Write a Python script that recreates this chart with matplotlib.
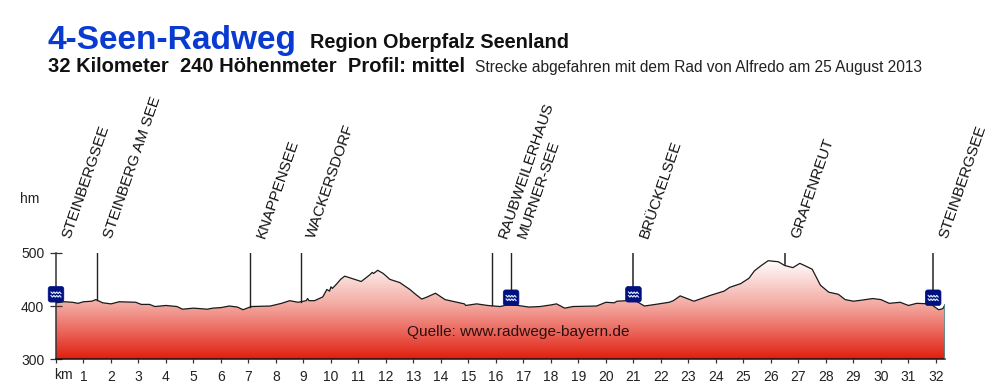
import numpy as np
import matplotlib
matplotlib.use('Agg')
import matplotlib.pyplot as plt
from matplotlib.colors import LinearSegmentedColormap
from matplotlib.lines import Line2D
from matplotlib.patches import FancyBboxPatch
from matplotlib.transforms import IdentityTransform

plt.rcParams['font.family'] = ['Liberation Sans', 'DejaVu Sans']

km = [0, 0.3, 0.6, 0.8, 1, 1.3, 1.45, 1.7, 2, 2.3, 2.9, 3.1, 3.4, 3.6, 4, 4.4, 4.6, 5, 5.5, 5.7, 6, 6.3,
      6.6, 6.8, 7.1, 7.8, 8.2, 8.5, 8.8, 9.1, 9.15, 9.2, 9.4, 9.7, 9.85, 9.95, 10, 10.05, 10.2, 10.35, 10.5, 10.8,
      11.1, 11.25, 11.4, 11.5, 11.55, 11.7, 11.9, 12.14, 12.5, 12.87, 13.1, 13.3, 13.5, 13.8, 14.15, 14.5, 14.85,
      14.9, 15.3, 15.7, 16.15, 16.4, 16.8, 17.2, 17.6, 18.0, 18.2, 18.5, 18.8, 19.66, 20, 20.3, 20.4, 20.75, 21.1,
      21.4, 21.8, 22.3, 22.45, 22.7, 23.2, 23.8, 24.3, 24.5, 24.9, 25.2, 25.4, 25.65, 25.9, 26.27, 26.5, 26.8,
      27.05, 27.3, 27.5, 27.8, 28.1, 28.45, 28.7, 29, 29.3, 29.7, 30, 30.3, 30.7, 31, 31.3, 31.8, 32.1, 32.25, 32.33]
elevation = [406, 408, 407, 405, 408, 409, 412, 406, 404, 408, 407, 403, 403, 399, 401, 399, 394, 396, 394, 396, 397, 400,
             398, 393, 399, 400, 405, 410, 407, 410, 414, 410, 410, 417, 431, 428, 436, 433, 441, 450, 456, 451,
             446, 452, 458, 463, 461, 467, 461, 450, 444, 431, 421, 413, 417, 424, 412, 408, 404,
             401, 404, 401, 399, 402, 401, 398, 399, 402, 404, 396, 399, 400, 407, 406, 409, 410, 409,
             400, 403, 407, 410, 419, 409, 420, 428, 435, 442, 452, 466, 476, 485, 483, 476, 472,
             480, 474, 469, 439, 426, 422, 412, 409, 411, 414, 412, 405, 407, 401, 405, 404, 393, 395, 402]

tick_km = list(range(33))
y_ticks = [300, 400, 500]

place_km = [0.0, 1.5, 7.05, 8.9, 15.85, 16.55, 21.0, 26.5, 31.9]
place_names = ['STEINBERGSEE', 'STEINBERG AM SEE', 'KNAPPENSEE', 'WACKERSDORF', 'RAUBWEILERHAUS',
               'MURNER-SEE', 'BRÜCKELSEE', 'GRAFENREUT', 'STEINBERGSEE']
place_ground = [408, 412, 399, 408, 401, 430, 430, 478, 430]

lake_km = [0.0, 16.55, 21.0, 31.9]
lake_y = [422, 415.5, 422, 415.5]

W, H = 1000, 389
dark = '#222222'


def px_text(x, y, s, **kw):
    fig.text(x / W, 1 - y / H, s, **kw)


fig = plt.figure(figsize=(10, 3.89), dpi=100)
x_end = 32.33
ax = fig.add_axes([56 / W, 1 - 359.3 / H, (945 - 56) / W, (359.3 - 252.7) / H])
ax.set_xlim(0, x_end)
ax.set_ylim(300, 500)

# red to white gradient clipped to the profile
cmap = LinearSegmentedColormap.from_list('hoehe', [(0, '#e01f0e'), (0.25, '#ea6459'), (0.5, '#f3a8a0'),
                                                   (0.93, '#ffffff'), (1, '#ffffff')])
grad = np.linspace(1, 0, 256).reshape(-1, 1)
img = ax.imshow(grad, extent=[0, x_end, 300, 500], aspect='auto', cmap=cmap, vmin=0, vmax=1, zorder=1)
poly = ax.fill_between(km, 300, elevation, facecolor='none', edgecolor='none')
img.set_clip_path(poly.get_paths()[0], transform=ax.transData)
ax.plot(km, elevation, color='#1a1a1a', lw=0.9, zorder=3)
ax.plot([x_end, x_end], [300, 402], color='#3f9a9a', lw=1.1, zorder=3)

# place markers, the last ones are a bit thicker and greyer in the original
for k, g in zip(place_km[1:], place_ground[1:]):
    if k > 20:
        ax.plot([k, k], [g, 500], color='#444444', lw=1.3, zorder=2)
    else:
        ax.plot([k, k], [g, 500], color='#222222', lw=1.0, zorder=2)

# lake icons
for k, y in zip(lake_km, lake_y):
    x0, y0 = ax.transData.transform((k, y))
    box = FancyBboxPatch((x0 - 6, y0 - 6), 12, 12, boxstyle='round,pad=1.8,rounding_size=2.5',
                         transform=IdentityTransform(), facecolor='#00107f', edgecolor='#00107f', lw=0.5, zorder=5)
    fig.add_artist(box)
    wave_x = np.linspace(-5, 5, 21)
    for dy in (-2, 1.5):
        wave = Line2D(x0 + wave_x, y0 + dy + 0.8 * np.sin(wave_x * 2.2), color='#dfe6ff', lw=0.8,
                      transform=IdentityTransform(), zorder=6)
        fig.add_artist(wave)

for s in ['top', 'right']:
    ax.spines[s].set_visible(False)
ax.spines['left'].set_color('#333333')
ax.spines['left'].set_linewidth(1.1)
ax.spines['bottom'].set_color('#111111')
ax.spines['bottom'].set_linewidth(1.1)
ax.set_xticks(tick_km)
ax.set_xticklabels([''] + [str(t) for t in tick_km[1:]], fontsize=10, color=dark)
ax.tick_params(axis='x', length=3, width=0.9, color='#333333', pad=5)
ax.set_yticks(y_ticks)
ax.set_yticklabels([str(t) for t in y_ticks], fontsize=10, color=dark)
ax.tick_params(axis='y', direction='inout', length=8, width=0.9, color='#333333', pad=4.5)

ax.text(16.8, 351, 'Quelle: www.radwege-bayern.de', fontsize=11.1, color='#2a1010', ha='center', va='center', zorder=4)

# rotated place names
for k, name in zip(place_km, place_names):
    x0, y0 = ax.transData.transform((k, 500))
    fig.text((x0 + 14.5) / W, (y0 + 14) / H, name, fontsize=11, color='#111111', rotation=71, rotation_mode='anchor',
             ha='left', va='baseline')

px_text(20, 203, 'hm', fontsize=10, color=dark)
px_text(54, 379, 'km', fontsize=10, color=dark)

px_text(48, 48.5, '4-Seen-Radweg', fontsize=24.1, fontweight='bold', color='#0a3bd0')
px_text(310, 47.5, 'Region Oberpfalz Seenland', fontsize=14.3, fontweight='bold', color='#111111')
px_text(48, 71.5, '32 Kilometer  240 Höhenmeter  Profil: mittel', fontsize=14.5, fontweight='bold', color='#111111')
px_text(475, 72, 'Strecke abgefahren mit dem Rad von Alfredo am 25 August 2013', fontsize=11.2, color='#222222')

fig.savefig('out.png', dpi=100)
